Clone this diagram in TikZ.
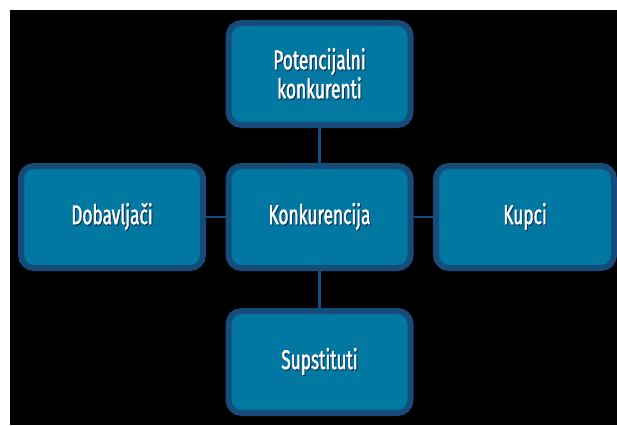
\documentclass[tikz,border=0pt]{standalone}
\usepackage{fontspec}
\newfontfamily\boxfont{Fira Sans}[FakeStretch=0.64, FakeBold=1.6]
\usetikzlibrary{calc}

\definecolor{boxfill}{RGB}{0,120,161}
\definecolor{boxedge}{RGB}{22,76,124}
\definecolor{txtshadow}{RGB}{12,50,85}

\newcommand{\shtxt}[1]{\leavevmode\rlap{\kern1pt\raisebox{-1.2pt}{\color{txtshadow}#1}}#1}

\tikzset{
 forcebox/.style={draw=boxedge, line width=6pt, fill=boxfill, rounded corners=13pt,
   minimum width=182pt, minimum height=102pt, inner sep=0pt, align=center,
   text=white, font=\fontsize{27}{31}\boxfont},
 link/.style={draw=boxedge, line width=2.5pt}
}

\begin{document}
\begin{tikzpicture}[x=1pt, y=-1pt]
\useasboundingbox (0,0) rectangle (617,425);
\fill[white] (0,0) rectangle (617,425);
\fill[black] (10,10) rectangle (617,425);
\coordinate (O) at (319.5,217);

\node[forcebox] (konk) at (O) {\shtxt{Konkurencija}};
\node[forcebox] (potk) at (319.5,74) {\shtxt{Potencijalni}\\[-2pt]\shtxt{konkurenti}};
\node[forcebox] (dob) at (112,217) {\shtxt{Dobavljači}};
\node[forcebox, minimum width=178pt] (kup) at (525,217) {\shtxt{Kupci}};
\node[forcebox] (sup) at (319.5,362) {\shtxt{Supstituti}};

\foreach \a/\b in {potk.south/konk.north, konk.south/sup.north, dob.east/konk.west, konk.east/kup.west}
 \draw[link] (\a) -- (\b);
\end{tikzpicture}
\end{document}
